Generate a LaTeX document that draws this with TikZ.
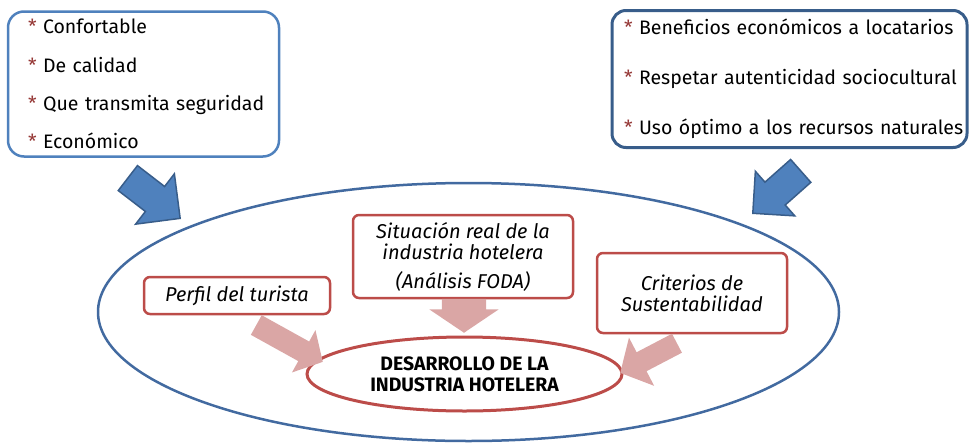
\documentclass[tikz,border=0pt]{standalone}
\usepackage{fontspec}
\setmainfont{Fira Sans}
\usetikzlibrary{shapes.geometric,shapes.arrows}
\definecolor{ListBlue}{RGB}{79,129,189}
\definecolor{ListNavy}{RGB}{56,93,138}
\definecolor{FrameBlue}{RGB}{66,106,160}
\definecolor{ArrowBlue}{RGB}{79,129,189}
\definecolor{ArrowEdge}{RGB}{56,93,138}
\definecolor{BoxRed}{RGB}{188,76,73}
\definecolor{ArrowPink}{RGB}{218,166,165}
\definecolor{StarClr}{RGB}{149,55,53}
\newcommand{\estr}[1]{\mbox{\textcolor{StarClr}{*}\,\,#1}}

\begin{document}
\begin{tikzpicture}[x=1pt,y=-1pt,
  lista/.style={draw, line width=2.5pt, rounded corners=16pt, inner ysep=0pt, align=left,
    font=\fontsize{19.5}{38.3}\selectfont},
  caja/.style={draw=BoxRed, line width=2.5pt, rounded corners=6pt, fill=white, align=center,
    inner sep=0pt, font=\fontsize{20}{21}\selectfont\itshape},
  flechaAzul/.style={single arrow, fill=ArrowBlue, draw=ArrowEdge, line width=1.5pt,
    inner xsep=0pt, minimum width=0pt, anchor=tip, single arrow tip angle=90},
  flechaRosa/.style={single arrow, fill=ArrowPink, inner xsep=0pt, minimum width=0pt, anchor=tip}]
\useasboundingbox (0,0) rectangle (969,442);

% big frame
\node[ellipse, draw=FrameBlue, line width=2.5pt, minimum width=741pt, minimum height=258pt,
  inner sep=0pt] (marco) at (468.5,312) {};

% top lists
\node[lista, draw=ListBlue, minimum width=271pt, minimum height=145pt, inner xsep=20pt,
  text width=231pt] (turista) at (143.5,84)
  {\estr{Confortable}\\ \estr{De calidad}\\ \estr{Que transmita seguridad}\\ \estr{Económico}};
\node[lista, draw=ListNavy, line width=3pt, rounded corners=14pt, minimum width=355pt,
  minimum height=137pt, inner xsep=12pt, text width=331pt, font=\fontsize{19.5}{50}\selectfont]
  (sustento) at (789.5,79)
  {\estr{Beneficios económicos a locatarios}\\ \estr{Respetar autenticidad sociocultural}\\
   \estr{Uso óptimo a los recursos naturales}};

% blue arrows
\node[flechaAzul, minimum height=66pt, inner ysep=15pt, single arrow head extend=16pt,
  rotate=-37.6] (bajaIzq) at (181,219) {};
\node[flechaAzul, minimum height=64pt, inner ysep=14.5pt, single arrow head extend=14.5pt,
  rotate=221.5] (bajaDer) at (752,214) {};

% inner boxes
\node[caja, minimum width=220pt, minimum height=83pt] (situacion) at (463,256.5)
  {Situación real de la\\ industria hotelera\\[8pt] (Análisis FODA)};
\node[caja, minimum width=186pt, minimum height=37pt] (perfil) at (237,295.5)
  {Perfil del turista};
\node[caja, minimum width=190pt, minimum height=80pt] (criterios) at (692,293)
  {Criterios de\\ Sustentabilidad};

% goal
\node[ellipse, draw=BoxRed, line width=3pt, minimum width=315pt, minimum height=74pt,
  inner sep=0pt, align=center, font=\bfseries\fontsize{19.4}{21}\selectfont]
  (desarrollo) at (464.5,374) {DESARROLLO DE LA\\ INDUSTRIA HOTELERA};

% pink arrows
\node[flechaRosa, minimum height=76pt, inner ysep=11pt, single arrow head extend=13pt,
  single arrow tip angle=96, rotate=-29] (dePerfil) at (323,362) {};
\node[flechaRosa, minimum height=34pt, inner ysep=22pt, single arrow head extend=12.5pt,
  single arrow tip angle=112, rotate=-90] (deSituacion) at (464,333) {};
\node[flechaRosa, minimum height=64pt, inner ysep=10.5pt, single arrow head extend=16.5pt,
  single arrow tip angle=97, rotate=207.6] (deCriterios) at (620,373) {};

\end{tikzpicture}
\end{document}
